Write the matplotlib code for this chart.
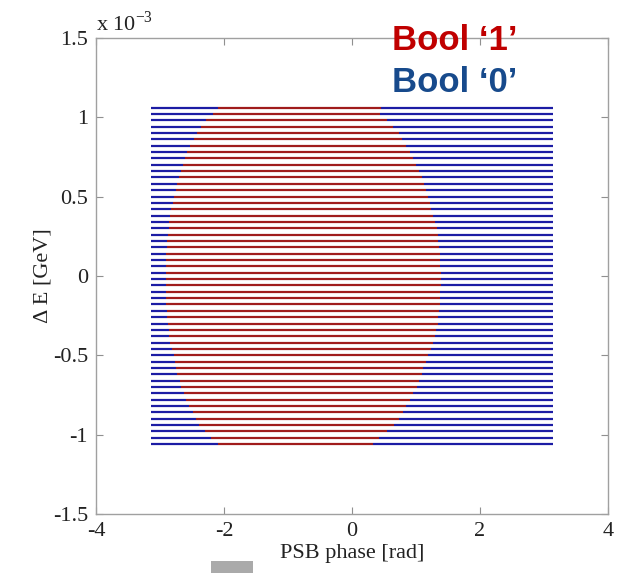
import matplotlib
matplotlib.use("Agg")
import matplotlib.pyplot as plt
from matplotlib.patches import Rectangle
import numpy as np

plt.rcParams['axes.unicode_minus'] = False
plt.rcParams['mathtext.fontset'] = 'custom'
plt.rcParams['mathtext.rm'] = 'Liberation Serif'

# Horizontal scan lines: energy offsets (units of 1e-3 GeV), from top to bottom
line_y = [1.06, 1.02, 0.98, 0.94, 0.90, 0.86, 0.82, 0.78, 0.74, 0.70,
          0.66, 0.62, 0.58, 0.54, 0.50, 0.46, 0.42, 0.38, 0.34, 0.30,
          0.26, 0.22, 0.18, 0.14, 0.10, 0.06, 0.02, -0.02, -0.06, -0.10,
          -0.14, -0.18, -0.22, -0.26, -0.30, -0.34, -0.38, -0.42, -0.46, -0.50,
          -0.54, -0.58, -0.62, -0.66, -0.70, -0.74, -0.78, -0.82, -0.86, -0.90,
          -0.94, -0.98, -1.02, -1.06]

# Left / right phase boundary of the Bool '1' region on each line (rad)
red_left = [-2.10, -2.18, -2.28, -2.36, -2.42, -2.47, -2.53, -2.58, -2.61, -2.65,
            -2.68, -2.71, -2.74, -2.75, -2.79, -2.80, -2.83, -2.85, -2.86, -2.87,
            -2.88, -2.90, -2.90, -2.91, -2.91, -2.91, -2.91, -2.91, -2.91, -2.91,
            -2.91, -2.91, -2.90, -2.90, -2.88, -2.87, -2.86, -2.84, -2.81, -2.79,
            -2.77, -2.76, -2.73, -2.69, -2.68, -2.63, -2.59, -2.55, -2.49, -2.44,
            -2.39, -2.30, -2.21, -2.09]
red_right = [0.45, 0.43, 0.55, 0.64, 0.73, 0.78, 0.85, 0.90, 0.95, 1.00,
             1.05, 1.09, 1.12, 1.15, 1.19, 1.21, 1.24, 1.27, 1.30, 1.32,
             1.34, 1.35, 1.36, 1.37, 1.38, 1.38, 1.39, 1.39, 1.39, 1.38,
             1.38, 1.37, 1.36, 1.35, 1.34, 1.31, 1.29, 1.27, 1.24, 1.19,
             1.15, 1.11, 1.09, 1.05, 1.01, 0.95, 0.90, 0.85, 0.80, 0.73,
             0.65, 0.54, 0.42, 0.33]

phase_min, phase_max = -np.pi, np.pi

x_ticks = [-4, -2, 0, 2, 4]
y_ticks = [-1.5, -1, -0.5, 0, 0.5, 1, 1.5]
y_tick_labels = ['-1.5', '-1', '-0.5', '0', '0.5', '1', '1.5']

RED = '#a01c1c'
BLUE = '#1c1ca4'

fig = plt.figure(figsize=(6.21, 5.73), dpi=100)
ax = fig.add_axes([0.155, 0.103, 0.824, 0.831])

lw = 1.6
ax.hlines(line_y, phase_min, red_left, colors=BLUE, lw=lw)
ax.hlines(line_y, red_left, red_right, colors=RED, lw=lw)
ax.hlines(line_y, red_right, phase_max, colors=BLUE, lw=lw)

ax.set_xlim(-4, 4)
ax.set_ylim(-1.5, 1.5)
ax.set_xticks(x_ticks)
ax.set_xticklabels([str(t) for t in x_ticks])
ax.set_yticks(y_ticks)
ax.set_yticklabels(y_tick_labels)

for s in ax.spines.values():
    s.set_color('#a0a0a0')
    s.set_linewidth(1.0)
ax.tick_params(direction='in', length=5, width=0.8, color='#909090',
               top=True, right=True, labelsize=16, pad=6)
for lab in ax.get_xticklabels() + ax.get_yticklabels():
    lab.set_family('Liberation Serif')
    lab.set_color('#222222')

ax.set_xlabel('PSB phase [rad]', family='Liberation Serif', fontsize=16,
              color='#222222', labelpad=2)
ax.set_ylabel('\u0394 E [GeV]', family='Liberation Serif', fontsize=16,
              color='#222222', labelpad=0)

ax.text(0.0, 1.005, r'x 10$^{\mathregular{-3}}$', transform=ax.transAxes,
        ha='left', va='bottom', family='Liberation Serif', fontsize=16,
        color='#222222')

fig.text(392 / 621, 1 - 50 / 573, 'Bool \u20181\u2019', color='#c00000',
         family='Liberation Sans', fontweight='bold', fontsize=25,
         ha='left', va='baseline')
fig.text(392 / 621, 1 - 92 / 573, 'Bool \u20180\u2019', color='#174a8c',
         family='Liberation Sans', fontweight='bold', fontsize=25,
         ha='left', va='baseline')

fig.patches.append(Rectangle((211 / 621, 0), 42 / 621, 12 / 573,
                             transform=fig.transFigure, facecolor='#aaaaaa',
                             edgecolor='none'))

fig.savefig('out.png', dpi=100)
